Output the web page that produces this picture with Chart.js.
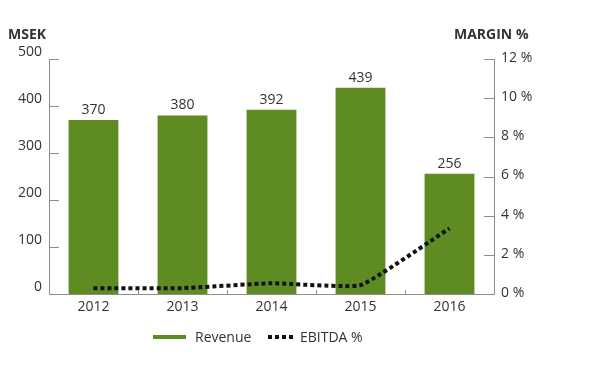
<!DOCTYPE html>
<html>
<head>
<meta charset="utf-8">
<script src="https://cdn.jsdelivr.net/npm/chart.js@4/dist/chart.umd.min.js"></script>
<style>
html,body{margin:0;padding:0;background:#fff;}
#wrap{width:600px;height:388px;position:relative;}
</style>
</head>
<body>
<div id="wrap"><canvas id="c" width="600" height="388"></canvas></div>
<script>
const years = ['2012', '2013', '2014', '2015', '2016'];
const revenue = [370, 380, 392, 439, 256];
const ebitdaPct = [0.3, 0.3, 0.55, 0.45, 3.35];
const revenueTicks = [0, 100, 200, 300, 400, 500];
const marginTicks = [0, 2, 4, 6, 8, 10, 12];

const GREEN = '#5e8c23';
const TEXT = '#333333';
const AXIS = '#8c8c8c';
const FONT = '"Open Sans", sans-serif';

const decor = {
  id: 'decor',
  afterDatasetsDraw(chart) {
    const ctx = chart.ctx;
    const x = chart.scales.x, y = chart.scales.y, y1 = chart.scales.y1;
    const area = chart.chartArea;
    ctx.save();
    ctx.strokeStyle = AXIS;
    ctx.lineWidth = 1;
    revenueTicks.forEach(v => {
      const py = Math.round(y.getPixelForValue(v)) + 0.5;
      ctx.beginPath(); ctx.moveTo(area.left, py); ctx.lineTo(area.left + 10, py); ctx.stroke();
    });
    marginTicks.forEach(v => {
      const py = Math.round(y1.getPixelForValue(v)) + 0.5;
      ctx.beginPath(); ctx.moveTo(area.right - 10, py); ctx.lineTo(area.right, py); ctx.stroke();
    });
    for (let i = 0; i < years.length - 1; i++) {
      const px = Math.round((x.getPixelForValue(i) + x.getPixelForValue(i + 1)) / 2) + 0.5;
      ctx.beginPath(); ctx.moveTo(px, area.bottom); ctx.lineTo(px, area.bottom - 4); ctx.stroke();
    }
    const barIdx = chart.data.datasets.findIndex(d => d.type === 'bar');
    const meta = chart.getDatasetMeta(barIdx);
    ctx.fillStyle = TEXT;
    ctx.font = '14px ' + FONT;
    ctx.textAlign = 'center';
    ctx.textBaseline = 'bottom';
    meta.data.forEach((bar, i) => {
      ctx.fillText(String(revenue[i]), bar.x, bar.y - 3);
    });
    ctx.font = 'bold 14px ' + FONT;
    ctx.textAlign = 'left';
    ctx.textBaseline = 'middle';
    ctx.fillText('MSEK', 8, 35);
    ctx.fillText('MARGIN %', 454, 35);
    const ly = 337;
    ctx.strokeStyle = GREEN;
    ctx.lineWidth = 4;
    ctx.beginPath(); ctx.moveTo(153, ly); ctx.lineTo(186, ly); ctx.stroke();
    ctx.fillStyle = '#111';
    for (let k = 0; k < 4; k++) ctx.fillRect(268 + k * 7, ly - 2, 4, 4);
    ctx.fillStyle = TEXT;
    ctx.font = '14px ' + FONT;
    ctx.fillText(chart.data.datasets[barIdx].label, 195, ly + 1);
    ctx.fillText(chart.data.datasets[1 - barIdx].label, 300, ly + 1);
    ctx.restore();
  }
};

new Chart(document.getElementById('c'), {
  data: {
    labels: years,
    datasets: [
      {
        type: 'line',
        label: 'EBITDA %',
        data: ebitdaPct,
        yAxisID: 'y1',
        borderColor: '#111111',
        borderWidth: 4,
        borderDash: [4, 3],
        borderCapStyle: 'butt',
        pointRadius: 0,
        tension: 0.12,
        fill: false,
        order: 0
      },
      {
        type: 'bar',
        label: 'Revenue',
        data: revenue,
        yAxisID: 'y',
        backgroundColor: GREEN,
        borderWidth: 0,
        barPercentage: 0.56,
        categoryPercentage: 1.0,
        order: 1
      }
    ]
  },
  options: {
    responsive: false,
    animation: false,
    devicePixelRatio: 1,
    layout: { padding: { top: 59, left: 0, right: 0, bottom: 0 } },
    plugins: { legend: { display: false }, tooltip: { enabled: false } },
    scales: {
      x: {
        offset: true,
        grid: { display: false, drawTicks: false },
        border: { display: true, color: AXIS, width: 1 },
        ticks: { color: TEXT, font: { family: FONT, size: 14 }, padding: 5, maxRotation: 0 },
        afterFit(s) { s.height = 94; }
      },
      y: {
        position: 'left',
        min: 0, max: 500,
        grid: { display: false, drawTicks: false },
        border: { display: true, color: AXIS, width: 1 },
        afterBuildTicks(s) { s.ticks = revenueTicks.map(v => ({ value: v })); },
        ticks: { color: TEXT, font: { family: FONT, size: 14 }, padding: 7, labelOffset: -7 },
        afterFit(s) { s.width = 49; }
      },
      y1: {
        position: 'right',
        min: 0, max: 12,
        grid: { display: false, drawTicks: false },
        border: { display: true, color: AXIS, width: 1 },
        afterBuildTicks(s) { s.ticks = marginTicks.map(v => ({ value: v })); },
        ticks: { color: TEXT, font: { family: FONT, size: 14 }, padding: 7, labelOffset: -1,
          callback: v => v + ' %' },
        afterFit(s) { s.width = 106; }
      }
    }
  },
  plugins: [decor]
});
</script>
</body>
</html>
